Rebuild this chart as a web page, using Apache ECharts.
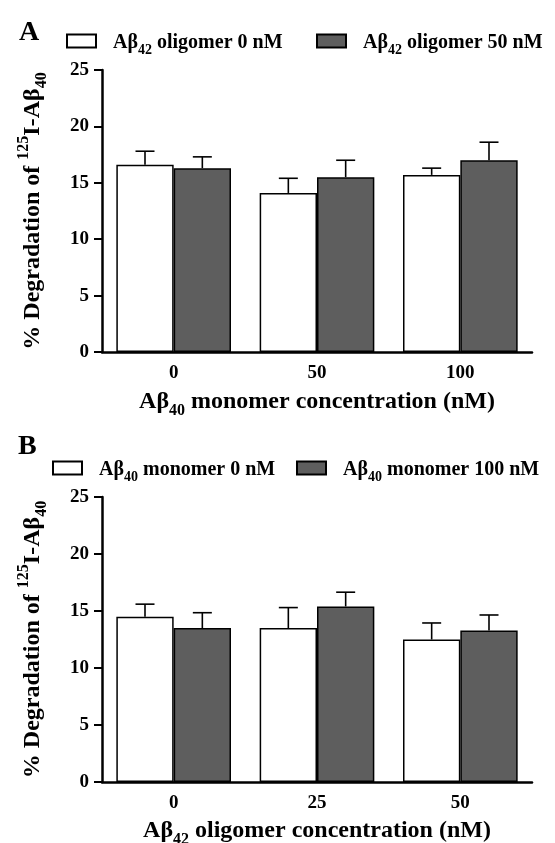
<!DOCTYPE html>
<html>
<head>
<meta charset="utf-8">
<script src="https://cdn.jsdelivr.net/npm/echarts@6/dist/echarts.min.js"></script>
<style>
html,body{margin:0;padding:0;background:#fff;}
#chart{width:555px;height:843px;}
</style>
</head>
<body>
<div id="chart"></div>
<script>
// Panel A
const categoriesA = ['0', '50', '100'];
const nameA1 = 'Aβ42 oligomer 0 nM';
const nameA2 = 'Aβ42 oligomer 50 nM';
const valuesA1 = [16.6, 14.1, 15.7];
const errorsA1 = [1.2, 1.3, 0.6];
const valuesA2 = [16.3, 15.5, 17.0];
const errorsA2 = [1.0, 1.5, 1.6];
// Panel B
const categoriesB = ['0', '25', '50'];
const nameB1 = 'Aβ40 monomer 0 nM';
const nameB2 = 'Aβ40 monomer 100 nM';
const valuesB1 = [14.5, 13.5, 12.5];
const errorsB1 = [1.1, 1.8, 1.45];
const valuesB2 = [13.5, 15.4, 13.3];
const errorsB2 = [1.35, 1.25, 1.35];
// axes
const yMin = 0, yMax = 25, yInterval = 5;
const xTitleA = '{n|Aβ}{sub|40}{n| monomer concentration (nM)}';
const xTitleB = '{n|Aβ}{sub|42}{n| oligomer concentration (nM)}';
const yTitle = '{n|% Degradation of }{sup|125}{n|I-Aβ}{sub|40}';

const FONT = '"Liberation Serif", "Times New Roman", serif';
const DARK = '#5e5e5e';

function richName(name) {
  const m = name.match(/^(Aβ)(\d+)(.*)$/);
  return '{n|' + m[1] + '}{sub|' + m[2] + '}{n|' + m[3] + '}';
}

const titleRich = {
  n: {fontFamily: FONT, fontWeight: 'bold', fontSize: 24, color: '#000', lineHeight: 29, verticalAlign: 'bottom'},
  sub: {fontFamily: FONT, fontWeight: 'bold', fontSize: 16, color: '#000', lineHeight: 29, verticalAlign: 'bottom', padding: [0, 0, -5, 0]},
  sup: {fontFamily: FONT, fontWeight: 'bold', fontSize: 16, color: '#000', lineHeight: 29, verticalAlign: 'top', padding: [0, 0, 6, 0]}
};
const legendRich = {
  n: {fontFamily: FONT, fontWeight: 'bold', fontSize: 20, color: '#000', lineHeight: 24, verticalAlign: 'bottom'},
  sub: {fontFamily: FONT, fontWeight: 'bold', fontSize: 14, color: '#000', lineHeight: 24, verticalAlign: 'bottom', padding: [0, 0, -4, 0]}
};

function errSeries(name, gridIdx, values, errors, side) {
  return {
    type: 'custom',
    name: name + ' err',
    xAxisIndex: gridIdx, yAxisIndex: gridIdx,
    silent: true,
    z: 3,
    data: values.map((v, i) => [i, v, errors[i]]),
    renderItem: function (params, api) {
      const idx = api.value(0), v = api.value(1), e = api.value(2);
      const band = api.size([1, 0])[0];
      const off = side * band * 0.2;
      const p0 = api.coord([idx, v]);
      const p1 = api.coord([idx, v + e]);
      const x = p0[0] + off;
      const half = 9.5;
      const st = {stroke: '#000', lineWidth: 1.6};
      return {
        type: 'group',
        children: [
          {type: 'line', shape: {x1: x, y1: p0[1], x2: x, y2: p1[1]}, style: st},
          {type: 'line', shape: {x1: x - half, y1: p1[1], x2: x + half, y2: p1[1]}, style: st}
        ]
      };
    }
  };
}

function barSeries(name, gridIdx, values, fill) {
  return {
    type: 'bar',
    name: name,
    xAxisIndex: gridIdx, yAxisIndex: gridIdx,
    barGap: '0%',
    barCategoryGap: '20%',
    itemStyle: {color: fill, borderColor: '#000', borderWidth: 1.5},
    emphasis: {disabled: true},
    data: values
  };
}

function xAxisDef(gridIdx, cats, title, gap) {
  return {
    type: 'category', gridIndex: gridIdx, data: cats,
    axisLine: {lineStyle: {color: '#000', width: 2.5}},
    axisTick: {alignWithLabel: true, length: 7, lineStyle: {color: '#000', width: 2.5}},
    axisLabel: {fontFamily: FONT, fontWeight: 'bold', fontSize: 19, color: '#000', margin: 12},
    name: title, nameLocation: 'middle', nameGap: gap,
    nameTextStyle: {rich: titleRich}
  };
}
function yAxisDef(gridIdx) {
  return {
    type: 'value', gridIndex: gridIdx, min: yMin, max: yMax, interval: yInterval,
    axisLine: {show: true, lineStyle: {color: '#000', width: 2.5}},
    axisTick: {show: true, length: 8, lineStyle: {color: '#000', width: 2}},
    axisLabel: {fontFamily: FONT, fontWeight: 'bold', fontSize: 19, color: '#000', margin: 13},
    splitLine: {show: false},
    name: yTitle, nameLocation: 'middle', nameGap: 57, nameRotate: 90,
    nameTextStyle: {rich: titleRich}
  };
}
function legendDef(name, left, top) {
  return {
    data: [{name: name, icon: 'rect'}], left: left, top: top, orient: 'horizontal',
    padding: 0,
    itemWidth: 29, itemHeight: 13, itemGap: 0,
    selectedMode: false,
    formatter: richName,
    textStyle: {rich: legendRich, padding: [0, 0, 0, 12]}
  };
}

const chart = echarts.init(document.getElementById('chart'), null, {renderer: 'canvas'});
chart.setOption({
  animation: false,
  backgroundColor: '#fff',
  title: [
    {text: 'A', left: 14, top: 14, textStyle: {fontFamily: FONT, fontWeight: 'bold', fontSize: 28, color: '#000'}},
    {text: 'B', left: 13, top: 428, textStyle: {fontFamily: FONT, fontWeight: 'bold', fontSize: 28, color: '#000'}}
  ],
  legend: [
    legendDef(nameA1, 66, 33),
    legendDef(nameA2, 316, 33),
    legendDef(nameB1, 52, 460),
    legendDef(nameB2, 296, 460)
  ],
  grid: [
    {left: 102, right: 23, top: 70, height: 282, outerBoundsMode: 'none', containLabel: false},
    {left: 102, right: 23, top: 497, height: 285, outerBoundsMode: 'none', containLabel: false}
  ],
  xAxis: [xAxisDef(0, categoriesA, xTitleA, 33), xAxisDef(1, categoriesB, xTitleB, 32)],
  yAxis: [yAxisDef(0), yAxisDef(1)],
  series: [
    barSeries(nameA1, 0, valuesA1, '#fff'),
    barSeries(nameA2, 0, valuesA2, DARK),
    errSeries(nameA1, 0, valuesA1, errorsA1, -1),
    errSeries(nameA2, 0, valuesA2, errorsA2, 1),
    barSeries(nameB1, 1, valuesB1, '#fff'),
    barSeries(nameB2, 1, valuesB2, DARK),
    errSeries(nameB1, 1, valuesB1, errorsB1, -1),
    errSeries(nameB2, 1, valuesB2, errorsB2, 1)
  ]
});
</script>
</body>
</html>
